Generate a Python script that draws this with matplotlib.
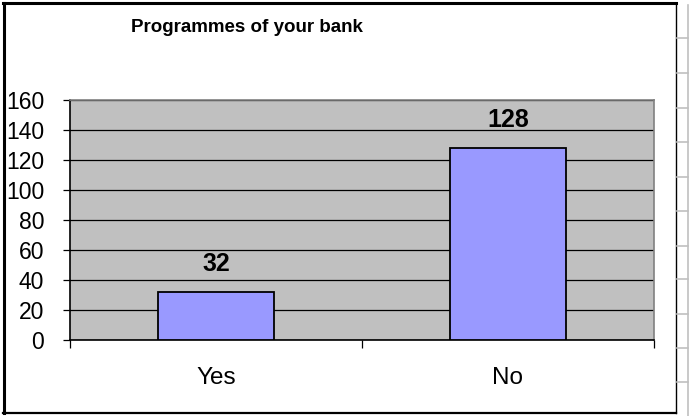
import matplotlib
matplotlib.use("Agg")
import matplotlib.pyplot as plt
from matplotlib.lines import Line2D

categories = ["Yes", "No"]
values = [32, 128]
y_ticks = [0, 20, 40, 60, 80, 100, 120, 140, 160]
title = "Programmes of your bank"

W, H = 690, 416
fig = plt.figure(figsize=(W / 100, H / 100), dpi=100)
fig.patch.set_facecolor("white")

def fx(px):
    return px / W

def fy(py):
    return 1 - py / H

# chart frame
fig.add_artist(Line2D([fx(4), fx(4)], [fy(3), fy(413)], color="black", lw=2.2))
fig.add_artist(Line2D([fx(3), fx(676)], [fy(3), fy(3)], color="black", lw=2.2))
fig.add_artist(Line2D([fx(3), fx(676)], [fy(413), fy(413)], color="black", lw=1.6))
fig.add_artist(Line2D([fx(675.5), fx(675.5)], [fy(3), fy(413)], color="black", lw=1.0))

# sheet cell borders to the right of the chart
fig.add_artist(Line2D([fx(688), fx(688)], [fy(5), fy(416)], color="#c0c0c0", lw=1.2))
for row_y in [38, 73, 108, 142, 177, 211, 246, 279, 314, 348, 382]:
    fig.add_artist(Line2D([fx(677), fx(688)], [fy(row_y), fy(row_y)], color="#c0c0c0", lw=1.2))

ax = fig.add_axes([fx(70), fy(340), fx(654) - fx(70), fy(100) - fy(340)])
ax.set_facecolor("#c0c0c0")

x = list(range(len(categories)))
ax.bar(x, values, width=0.4, color="#9999ff", edgecolor="black", linewidth=1.3, zorder=3)

ax.set_xlim(-0.5, len(categories) - 0.5)
ax.set_ylim(0, 160)
ax.set_yticks(y_ticks)
ax.set_yticklabels([str(t) for t in y_ticks], fontsize=16.5, family="Liberation Sans")
ax.yaxis.grid(True, color="black", lw=0.9, zorder=1)
ax.set_axisbelow(True)

ax.set_xticks([-0.5, 0.5, 1.5])
ax.set_xticklabels([])
ax.tick_params(axis="x", length=6, width=0.9, color="black", direction="out")
ax.tick_params(axis="y", length=5, width=0.9, color="black", direction="out", pad=13.5)
for i, c in enumerate(categories):
    ax.text(i, -25.5, c, ha="center", va="center", fontsize=17.5, family="Liberation Sans")

for i, v in enumerate(values):
    ax.text(i, v + 18.5, str(v), ha="center", va="center", fontsize=18,
            fontweight="bold", family="Liberation Sans")

ax.spines["left"].set_color("black")
ax.spines["bottom"].set_color("black")
ax.spines["top"].set_color("#808080")
ax.spines["right"].set_color("#808080")
for s in ax.spines.values():
    s.set_linewidth(1.2)

fig.text(fx(247), fy(27), title, ha="center", va="center", fontsize=13.5,
         fontweight="bold", family="Liberation Sans")

fig.savefig("out.png", dpi=100, facecolor="white")
